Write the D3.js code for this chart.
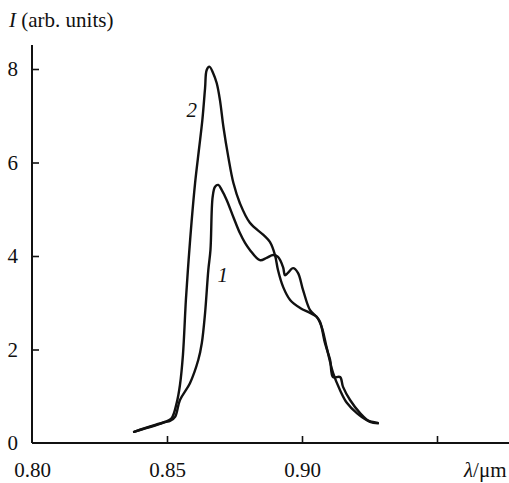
<!DOCTYPE html>
<html>
<head>
<meta charset="utf-8">
<script src="https://cdn.jsdelivr.net/npm/d3@7"></script>
<style>
  html, body { margin: 0; padding: 0; background: #fff; }
  svg { display: block; }
  svg text { font-family: "Times New Roman", "Liberation Serif", Tinos, "DejaVu Serif", serif !important; fill: #111; }
</style>
</head>
<body>
<svg id="chart" width="509" height="483"></svg>
<script>
// ---- data ----
const xTicks = [0.80, 0.85, 0.90, 0.95];
const xTickLabels = ["0.80", "0.85", "0.90", ""];
const yTicks = [0, 2, 4, 6, 8];
const yTickLabels = ["0", "2", "4", "6", "8"];

const curve1Lambda = [0.8378, 0.8493, 0.8511, 0.8530, 0.8548, 0.8585, 0.8616, 0.8629, 0.8641, 0.8653, 0.8661, 0.8669, 0.8678, 0.8690, 0.8703, 0.8721, 0.8746, 0.8770, 0.8789, 0.8807, 0.8844, 0.8869, 0.8893, 0.8911, 0.8930, 0.8937, 0.8948, 0.8967, 0.8985, 0.9004, 0.9030, 0.9054, 0.9067, 0.9085, 0.9104, 0.9115, 0.9141, 0.9152, 0.9178, 0.9215, 0.9252, 0.9281];
const curve1I      = [0.24, 0.45, 0.47, 0.56, 0.92, 1.28, 1.78, 2.14, 2.78, 3.70, 4.13, 5.26, 5.48, 5.52, 5.41, 5.20, 4.83, 4.49, 4.28, 4.13, 3.91, 3.96, 4.02, 3.98, 3.76, 3.59, 3.64, 3.74, 3.64, 3.27, 2.84, 2.70, 2.59, 2.14, 1.78, 1.41, 1.41, 1.20, 0.92, 0.64, 0.45, 0.42];

const curve2Lambda = [0.8378, 0.8493, 0.8517, 0.8536, 0.8548, 0.8559, 0.8570, 0.8580, 0.8591, 0.8604, 0.8619, 0.8631, 0.8641, 0.8647, 0.8657, 0.8671, 0.8684, 0.8696, 0.8709, 0.8727, 0.8746, 0.8770, 0.8807, 0.8857, 0.8881, 0.8900, 0.8911, 0.8930, 0.8956, 0.8993, 0.9030, 0.9054, 0.9073, 0.9091, 0.9115, 0.9141, 0.9166, 0.9203, 0.9240, 0.9281];
const curve2I      = [0.24, 0.45, 0.53, 0.86, 1.24, 1.88, 3.06, 3.91, 4.73, 5.56, 6.31, 6.91, 7.59, 7.98, 8.05, 7.91, 7.70, 7.34, 6.76, 6.12, 5.56, 5.13, 4.71, 4.45, 4.30, 4.02, 3.70, 3.34, 3.06, 2.89, 2.78, 2.70, 2.48, 2.05, 1.50, 1.13, 0.86, 0.64, 0.49, 0.43];

const curveLabels = [
  { text: "1", lambda: 0.8687, I: 3.44 },
  { text: "2", lambda: 0.8572, I: 6.97 }
];

// ---- drawing ----
const svg = d3.select("#chart");
const W = 509;
const FS = 21;
const x = d3.scaleLinear().domain([0.80, 0.95]).range([32, 437]);
const y = d3.scaleLinear().domain([0, 8]).range([443, 69]);

const ink = "#111";

// x axis
const xAxis = d3.axisBottom(x)
  .tickValues(xTicks)
  .tickSize(-7)
  .tickPadding(19)
  .tickFormat((d, i) => xTickLabels[i]);
const gx = svg.append("g").attr("transform", `translate(0,${y(0)})`).call(xAxis);
gx.select(".domain").remove();
gx.selectAll(".tick line").attr("stroke", ink).attr("stroke-width", 1.6)
  .attr("display", (d) => d === 0.80 ? "none" : null);
gx.selectAll(".tick text").attr("font-size", FS).attr("fill", ink);
svg.append("line").attr("x1", x(0.80)).attr("x2", W).attr("y1", y(0)).attr("y2", y(0))
  .attr("stroke", ink).attr("stroke-width", 2);

// y axis
const yAxis = d3.axisLeft(y)
  .tickValues(yTicks)
  .tickSize(-7)
  .tickPadding(14)
  .tickFormat((d, i) => yTickLabels[i]);
const gy = svg.append("g").attr("transform", `translate(${x(0.80)},0)`).call(yAxis);
gy.select(".domain").remove();
gy.selectAll(".tick line").attr("stroke", ink).attr("stroke-width", 1.6)
  .attr("display", (d) => d === 0 ? "none" : null);
gy.selectAll(".tick text").attr("font-size", FS).attr("fill", ink);
svg.append("line").attr("x1", x(0.80)).attr("x2", x(0.80)).attr("y1", 45).attr("y2", y(0))
  .attr("stroke", ink).attr("stroke-width", 2);

// axis titles
const yt = svg.append("text").attr("x", 9).attr("y", 27).attr("font-size", FS);
yt.append("tspan").attr("font-style", "italic").text("I");
yt.append("tspan").text(" (arb. units)");

const xt = svg.append("text").attr("x", 464).attr("y", 477).attr("font-size", FS);
xt.append("tspan").attr("font-style", "italic").text("λ");
xt.append("tspan").text("/μm");

// curves
const line = d3.line()
  .x(d => x(d[0]))
  .y(d => y(d[1]))
  .curve(d3.curveCatmullRom.alpha(0.5));

const series = [
  d3.zip(curve1Lambda, curve1I),
  d3.zip(curve2Lambda, curve2I)
];
svg.selectAll("path.curve").data(series).enter().append("path")
  .attr("class", "curve")
  .attr("d", line)
  .attr("fill", "none")
  .attr("stroke", ink)
  .attr("stroke-width", 2.4)
  .attr("stroke-linejoin", "round")
  .attr("stroke-linecap", "round");

svg.selectAll("text.clabel").data(curveLabels).enter().append("text")
  .attr("class", "clabel")
  .attr("x", d => x(d.lambda))
  .attr("y", d => y(d.I))
  .attr("font-size", FS)
  .attr("font-style", "italic")
  .text(d => d.text);
</script>
</body>
</html>
